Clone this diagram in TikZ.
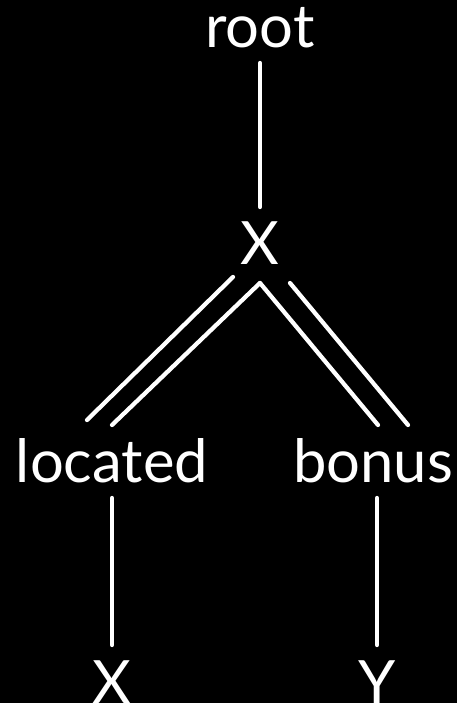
\documentclass[tikz,border=0pt]{standalone}
\usepackage{fontspec}
\setmainfont{Lato}
\usetikzlibrary{calc}
\begin{document}
\begin{tikzpicture}[x=0.02cm, y=0.02cm, line width=0.085cm, line cap=round, white,
	word/.style={
		text=white,
		font=\fontsize{34}{40}\selectfont,
		inner sep=0,
		text height=0.86cm,
		text depth=0,
		outer ysep=0.3cm,
		anchor=base
	}
	]
	
	\fill[black] (0,0) rectangle (457,703);
	\useasboundingbox (0,0) rectangle (457,703);
	
	\node[word] (root)  at (260,655) {root};
	\node[word] (X)     at (260,438) {X};
	\node[word] (loc)   at (112,220) {located};
	\node[word] (bon)   at (373,220) {bonus};
	\node[word] (Xbot)  at (112,0)   {X};
	\node[word] (Ybot)  at (377,0)   {Y};
	
	\draw (root.south) -- (X.north);
	
	%Doppelkanten
	\draw ($(X.south)+(0,-3)$) -- (loc.north);
	\draw ($(X.south)+(-27,3)$) -- ($(loc.north)+(-25,5)$);
	\draw ($(X.south)+(0,-3)$) -- ($(bon.north)+(5,0)$);
	\draw ($(X.south)+(30,-3)$) -- ($(bon.north)+(35,0)$);
	
	\draw (loc.south) -- (Xbot.north);
	\draw (bon.south -| Ybot.north) -- (Ybot.north);
	
\end{tikzpicture}
\end{document}
